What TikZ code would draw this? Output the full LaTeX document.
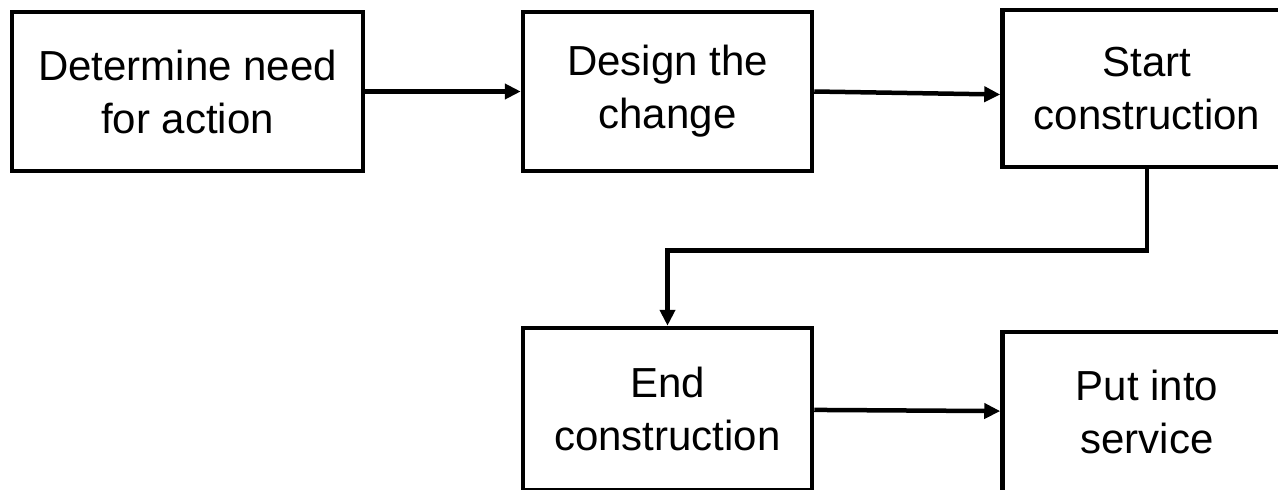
\documentclass[tikz,border=0pt]{standalone}
\usepackage{fontspec}
\setmainfont{Liberation Sans}
\usetikzlibrary{positioning}
\usetikzlibrary{arrows.meta}
\tikzset{>={Triangle[length=16pt,width=15pt]}}
\tikzset{stage/.style={draw, line width=4.5pt, minimum width=289pt, minimum height=159pt, align=center, inner sep=0pt, font=\fontsize{42}{53}\selectfont}}
\tikzset{flow/.style={->, line width=4.5pt}}

\begin{document}
\begin{tikzpicture}[x=1pt, y=-1pt]
    \useasboundingbox (0,0) rectangle (1278,490);
    \clip (0,0) rectangle (1278,490);

    \node[stage, minimum width=351pt] (need) at (187.5, 91.5) {Determine need\\for action};
    \node[stage] (design) at (667.5, 91.5) {Design the\\change};
    \node[stage, minimum height=157pt] (start) at (1147, 88.5) {Start\\construction};
    \node[stage, minimum height=162pt] (end) at (667.5, 409) {End\\construction};
    \node[stage, minimum height=160pt] (service) at (1147, 412) {Put into\\service};

    \draw[flow] (need) -- (design);
    \draw[flow] (design.east) -- ([yshift=-6pt]start.west);
    \draw[flow] (start.south) -- ++(0,81) -| (end.north);
    \draw[flow] (end) -- (service);
\end{tikzpicture}
\end{document}
